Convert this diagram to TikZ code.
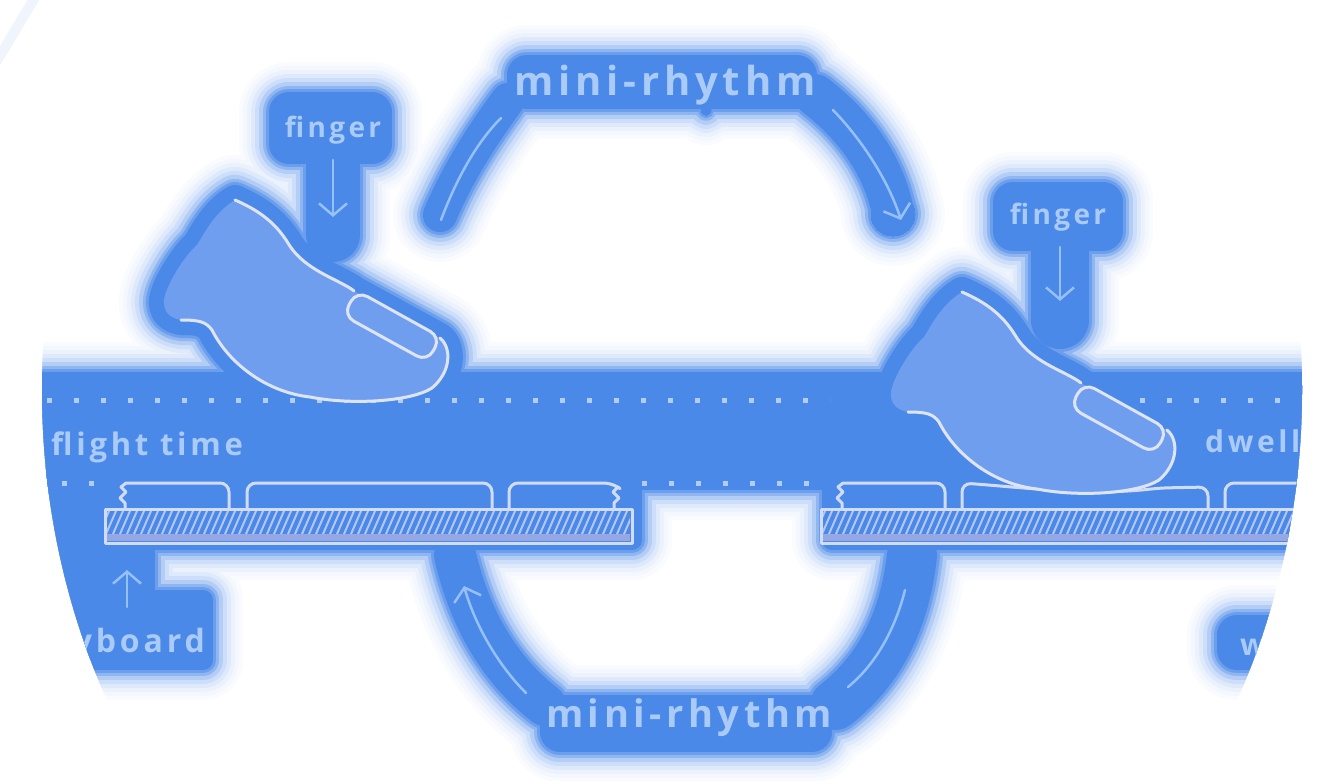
\documentclass[tikz,border=0pt]{standalone}
\usepackage{fontspec}
\setmainfont{Open Sans}
\newfontfamily\lblfont[LetterSpace=12]{Open Sans}
\usetikzlibrary{arrows.meta}
\definecolor{mb}{RGB}{74,137,232}
\definecolor{fingc}{RGB}{112,158,238}
\definecolor{outc}{RGB}{222,228,252}
\definecolor{keyc}{RGB}{208,220,250}
\definecolor{hatchc}{RGB}{180,198,245}
\definecolor{stripc}{RGB}{150,168,228}
\definecolor{txtc}{RGB}{170,202,248}
\definecolor{arcc}{RGB}{150,192,248}
\definecolor{dotc}{RGB}{178,205,250}
\tikzset{
  lab/.style={text=txtc, inner sep=0pt, font=\lblfont\bfseries},
  outline/.style={draw=outc, line width=3, line join=round, line cap=round},
  keyl/.style={draw=keyc, line width=3, line join=round, line cap=round},
  arcln/.style={draw=arcc, line width=2.5, line cap=round},
  dotl/.style={draw=dotc, line width=5, dash pattern=on 5pt off 22pt},
  barb/.style={-{Straight Barb[length=12pt,width=28pt]}},
}
% finger silhouette (left finger coordinates)
\newcommand\fingshape{(235,200) .. controls (258,210) and (275,222) .. (288,243) .. controls (298,260) and (315,270) .. (333,279) .. controls (345,285) and (352,289) .. (354,291) -- (440,338) .. controls (452,348) and (451,372) .. (432,388) .. controls (410,402) and (350,405) .. (310,397) .. controls (265,392) and (228,362) .. (212,330) .. controls (206,322) and (200,320) .. (181,320) .. controls (170,318) and (163,312) .. (164,300) .. controls (166,285) and (185,255) .. (197,245) .. controls (205,232) and (215,212) .. (235,200) -- cycle}
\newcommand\fingoutline{%
  \draw[outline] (235,200) .. controls (258,210) and (275,222) .. (288,243) .. controls (298,260) and (315,270) .. (333,279) .. controls (345,285) and (352,289) .. (354,291);
  \draw[outline, rounded corners=12] (356.8,290.7) -- (440.8,337.2) -- (427.2,361.7) -- (343.2,315.3) -- cycle;
  \draw[outline] (440,338) .. controls (452,348) and (451,372) .. (432,388) .. controls (410,402) and (350,405) .. (310,397) .. controls (265,392) and (228,362) .. (212,330) .. controls (206,322) and (200,320) .. (181,320);
}
% glow blobs, #1 = extra width
\newcommand\blobset[1]{%
  % top mini-rhythm
  \filldraw[line width=40+#1] (527,75) rectangle (797,89);
  \filldraw[line width=#1] (706,110) circle (5);
  \draw[line width=34+#1] (440,215) .. controls (455,180) and (475,145) .. (508,100);
  \draw[line width=42+#1] (815,95) .. controls (858,128) and (884,168) .. (893,212);
  \filldraw[line width=#1] (893,214) circle (22);
  % left label + finger
  \filldraw[line width=40+#1] (289,112) rectangle (372,144);
  \draw[line width=54+#1] (333,150) -- (333,235);
  \filldraw[line width=30+#1] \fingshape;
  % right label + finger
  \filldraw[line width=40+#1] (1013,202) rectangle (1103,231);
  \draw[line width=58+#1] (1060,240) -- (1060,320);
  \begin{scope}[shift={(727,92)}]
    \filldraw[line width=30+#1] \fingshape;
  \end{scope}
  % band and keyboards
  \filldraw[line width=16+#1] (0,380) rectangle (1331,482);
  \filldraw[line width=20+#1] (100,478) rectangle (632,540);
  \filldraw[line width=20+#1] (832,478) rectangle (1331,540);
  \filldraw[line width=20+#1] (20,480) -- (110,480) -- (110,550) -- (145,550) -- (145,600) -- (203,600) -- (203,660) -- (20,660) -- cycle;
  \filldraw[line width=40+#1] (1237,635) rectangle (1300,650);
  % bottom mini-rhythm
  \filldraw[line width=40+#1] (560,715) rectangle (812,732);
  \draw[line width=42+#1] (455,555) .. controls (470,620) and (500,670) .. (545,705);
  \draw[line width=50+#1] (912,555) .. controls (905,620) and (880,670) .. (835,705);
}
\newcommand\keybase[2]{% #1 left x, #2 right x
  \fill[stripc] (#1+2,534) rectangle (#2-2,541);
  \begin{scope}
    \clip (#1+2,511) rectangle (#2-2,534);
    \foreach \hx in {0,7,...,560} \draw[hatchc, line width=2] (#1+\hx-6,534) -- (#1+\hx+4,511);
  \end{scope}
  \draw[keyl] (#1,509) rectangle (#2,543);
}
\begin{document}
\begin{tikzpicture}[x=1pt,y=-1pt]
\useasboundingbox (0,0) rectangle (1331,780);
\fill[white] (0,0) rectangle (1331,780);
% faint frame arc in the corner
\draw[line width=10, mb!9, line cap=round] (-4,62) .. controls (10,40) and (22,18) .. (36,-4);
\begin{scope}
\clip (672,390) ellipse [x radius=630, y radius=700];
% glow layers
\foreach \w/\c in {60/3,52/6,44/11,36/18,28/28,20/42,12/62,6/82,0/100} {
  \begin{scope}[draw=mb!\c, fill=mb!\c, line join=round, line cap=round]
    \blobset{\w}
  \end{scope}
}
% dotted guide lines
\draw[dotl] (47,400) -- (830,400);
\draw[dotl] (1140,400) -- (1320,400);
\draw[dotl] (62,483) -- (104,483);
\draw[dotl] (642,483) -- (815,483);
% left keyboard
\keybase{105}{632}
\draw[keyl] (125,509) -- (125,503) -- (120,498) -- (126,492) -- (121,487) -- (126,483) [rounded corners=9] -- (229,483) -- (229,509);
\draw[keyl, rounded corners=9] (247,509) -- (247,483) -- (492,483) -- (492,509);
\draw[keyl] (509,509) [rounded corners=9] -- (509,483) -- (613,483) [sharp corners] -- (618,487) -- (613,492) -- (619,498) -- (614,503) -- (614,509);
% right keyboard
\keybase{821}{1345}
\draw[keyl] (842,509) -- (842,503) -- (837,498) -- (843,492) -- (838,487) -- (843,483) [rounded corners=9] -- (945,483) -- (945,509);
\draw[keyl, rounded corners=9] (962,509) -- (962,483) .. controls (1030,488) and (1090,496) .. (1160,488) -- (1208,487) -- (1208,509);
\draw[keyl, rounded corners=9] (1225,509) -- (1225,483) -- (1345,483);
% fingers
\fill[fingc] \fingshape;
\fingoutline
\begin{scope}[shift={(727,92)}]
  \fill[fingc] \fingshape;
  \fingoutline
\end{scope}
% texts
\node[lab, font=\lblfont\bfseries\fontsize{40}{40}\selectfont, anchor=base] (mrTop) at (665,95) {mini-rhythm};
\node[lab, font=\lblfont\bfseries\fontsize{38}{38}\selectfont, anchor=base] (mrBot) at (689,727) {mini-rhythm};
\node[lab, font=\lblfont\bfseries\fontsize{28}{28}\selectfont, anchor=base] (fingL) at (333,137) {finger};
\node[lab, font=\lblfont\bfseries\fontsize{28}{28}\selectfont, anchor=base] (fingR) at (1058,224) {finger};
\node[lab, font=\lblfont\bfseries\fontsize{31}{31}\selectfont, anchor=base west] (flight) at (51,455) {flight time};
\node[lab, font=\lblfont\bfseries\fontsize{30}{30}\selectfont, anchor=base west] (dwell) at (1205,452) {dwell time};
\node[lab, font=\lblfont\bfseries\fontsize{32}{32}\selectfont, anchor=base east] (kbd) at (205,652) {keyboard};
\node[lab, font=\lblfont\bfseries\fontsize{30}{30}\selectfont, anchor=base west] (kbdR) at (1240,655) {w};
% label arrows
\coordinate (fLa) at (333,160); \coordinate (fLb) at (333,217);
\draw[arcln, barb] (fLa) -- (fLb);
\coordinate (fRa) at (1060,247); \coordinate (fRb) at (1060,301);
\draw[arcln, barb] (fRa) -- (fRb);
\coordinate (kA) at (127,607); \coordinate (kB) at (127,570);
\draw[arcln, barb] (kA) -- (kB);
% mini-rhythm arcs
\coordinate (tl1) at (441,220); \coordinate (tl2) at (501,118);
\draw[arcln] (tl1) .. controls (456,180) and (476,143) .. (tl2);
\coordinate (tr1) at (833,110); \coordinate (tr2) at (901,220);
\draw[arcln, barb] (tr1) .. controls (862,140) and (888,180) .. (tr2);
\coordinate (bl1) at (526,693); \coordinate (bl2) at (464,586);
\draw[arcln, barb] (bl1) .. controls (498,665) and (475,625) .. (bl2);
\coordinate (br1) at (905,590); \coordinate (br2) at (848,687);
\draw[arcln] (br1) .. controls (895,630) and (875,665) .. (br2);
\end{scope}
\end{tikzpicture}
\end{document}
